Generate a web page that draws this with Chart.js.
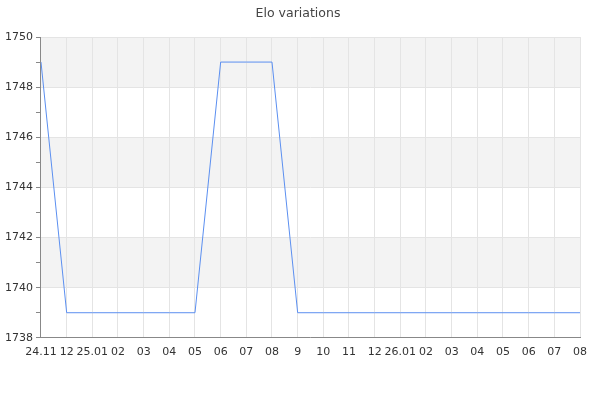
<!DOCTYPE html>
<html>
<head>
<meta charset="utf-8">
<script src="https://cdn.jsdelivr.net/npm/chart.js@4/dist/chart.umd.min.js"></script>
<style>
  html, body { margin: 0; padding: 0; background: #fff; }
  #wrap { width: 600px; height: 400px; }
</style>
</head>
<body>
<div id="wrap"><canvas id="eloChart"></canvas></div>
<script>
// dates on the x axis
const labels = ["24.11", "12", "25.01", "02", "03", "04", "05", "06", "07", "08", "9",
  "10", "11", "12", "26.01", "02", "03", "04", "05", "06", "07", "08"];

// elo values
const elo = [1749, 1739, 1739, 1739, 1739, 1739, 1739, 1749, 1749, 1749, 1739,
  1739, 1739, 1739, 1739, 1739, 1739, 1739, 1739, 1739, 1739, 1739];

const yMin = 1738;
const yMax = 1750;

// bandes grises alternées
const bandsPlugin = {
  id: 'bands',
  afterLayout(chart) {
    // center the title on the whole canvas
    if (chart.titleBlock) {
      chart.titleBlock.left = 0;
      chart.titleBlock.right = chart.width - 4;
    }
  },
  beforeDraw(chart) {
    const { ctx, chartArea, scales } = chart;
    const y = scales.y;
    ctx.save();
    ctx.fillStyle = '#f3f3f3';
    for (let v = yMax; v > yMin; v -= 4) {
      const top = y.getPixelForValue(v);
      const bottom = y.getPixelForValue(v - 2);
      ctx.fillRect(chartArea.left, top, chartArea.right - chartArea.left, bottom - top);
    }
    ctx.restore();
  }
};

new Chart(document.getElementById('eloChart'), {
  type: 'line',
  data: {
    labels: labels,
    datasets: [{
      label: 'Elo',
      data: elo,
      borderColor: '#5b8ff0',
      borderWidth: 1,
      pointRadius: 0,
      tension: 0,
      fill: false
    }]
  },
  options: {
    responsive: true,
    maintainAspectRatio: false,
    animation: false,
    layout: { padding: { left: 2, right: 20, top: 0, bottom: 33 } },
    plugins: {
      legend: { display: false },
      tooltip: { enabled: false },
      title: {
        display: true,
        text: 'Elo variations',
        color: '#444',
        font: { family: 'DejaVu Sans', size: 12.5, weight: 'normal' },
        padding: { top: 6, bottom: 16 }
      }
    },
    scales: {
      x: {
        offset: false,
        grid: {
          color: '#e4e4e4',
          drawTicks: false
        },
        border: { color: '#888' },
        ticks: {
          color: '#333',
          autoSkip: false,
          maxRotation: 0,
          padding: 8,
          font: { family: 'DejaVu Sans', size: 11 }
        }
      },
      y: {
        min: yMin,
        max: yMax,
        grid: {
          color: ctx => (ctx.tick && ctx.tick.value % 2 === 0) ? '#e4e4e4' : 'rgba(0,0,0,0)',
          tickColor: '#888',
          tickLength: 5
        },
        border: { color: '#888' },
        ticks: {
          stepSize: 1,
          color: '#333',
          padding: 3,
          font: { family: 'DejaVu Sans', size: 11 },
          callback: v => v % 2 === 0 ? v : ''
        }
      }
    }
  },
  plugins: [bandsPlugin]
});
</script>
</body>
</html>
